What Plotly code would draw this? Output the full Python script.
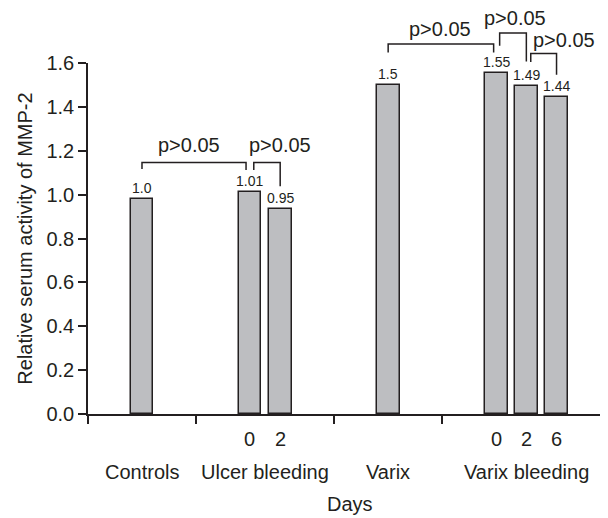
import plotly.graph_objects as go

# ---------------- data ----------------
groups = ["Controls", "Ulcer bleeding", "Varix", "Varix bleeding"]
days = [[""], ["0", "2"], [""], ["0", "2", "6"]]
values = [[0.98], [1.013, 0.935], [1.50], [1.553, 1.497, 1.445]]
value_labels = [["1.0"], ["1.01", "0.95"], ["1.5"], ["1.55", "1.49", "1.44"]]
y_ticks = [0.0, 0.2, 0.4, 0.6, 0.8, 1.0, 1.2, 1.4, 1.6]
y_title = "Relative serum activity of MMP-2"
x_title = "Days"
p_text = "p>0.05"
# pairs of bars (flat index) compared with a bracket
comparisons = [(0, 1), (1, 2), (3, 4), (4, 5), (5, 6)]

# ---------------- style / layout constants ----------------
FONT = "Liberation Sans, Arial, Helvetica, sans-serif"
INK = "#231f20"
BAR_FILL = "#bdbec1"
GAP = 2.576          # padding inside each group (bar units)
BAR_W = 0.76
Y_MAX = 1.6
X_MAX = 17.22
# bracket geometry (data units of y)
br_top = [1.147, 1.147, 1.687, 1.737, 1.643]
br_left_end = [1.117, 1.112, 1.648, 1.679, 1.605]
br_right_end = [1.112, 1.038, 1.648, 1.607, 1.547]
br_left_off = [0.0, 0.126, 0.0, 0.116, 0.146]
br_right_off = [-0.13, 0.0, -0.083, 0.0, 0.0]
txt_dx = [-0.15, 0.417, -0.02, 0.08, 0.659]
txt_dy = [0.081, 0.081, 0.070, 0.066, 0.063]
DAY_Y, GROUP_Y, TITLE_Y = -0.115, -0.264, -0.411
TITLE_DX = 0.77


def py(v):
    """data y -> paper y (range starts at 0)"""
    return v / Y_MAX


# ---------------- positions through a simple group layout ----------------
bar_x, bar_v, bar_lab, bar_day = [], [], [], []
group_centers, group_edges = [], [0.0]
cur = 0.0
for g, vs, labs, ds in zip(groups, values, value_labels, days):
    n = len(vs)
    for i in range(n):
        bar_x.append(cur + GAP / 2 + 0.5 + i)
        bar_v.append(vs[i])
        bar_lab.append(labs[i])
        bar_day.append(ds[i])
    w = GAP + n
    group_centers.append(cur + w / 2)
    cur += w
    group_edges.append(cur)

fig = go.Figure()
fig.add_trace(go.Bar(
    x=bar_x, y=bar_v, width=BAR_W,
    marker=dict(color=BAR_FILL, line=dict(color=INK, width=1.5)),
    hoverinfo="skip", showlegend=False,
))

f14 = dict(family=FONT, size=14, color=INK)
f20 = dict(family=FONT, size=20, color=INK)
annotations = []
# value labels on bars
for x, v, t in zip(bar_x, bar_v, bar_lab):
    annotations.append(dict(x=x, y=py(v), xref="x", yref="paper", text=t, showarrow=False,
                            yanchor="bottom", font=f14, yshift=1))
# day labels
for x, d in zip(bar_x, bar_day):
    if d:
        annotations.append(dict(x=x, y=py(DAY_Y), xref="x", yref="paper", text=d,
                                showarrow=False, yanchor="middle", font=f20))
# group labels
for c, g in zip(group_centers, groups):
    annotations.append(dict(x=c, y=py(GROUP_Y), xref="x", yref="paper", text=g,
                            showarrow=False, yanchor="middle", font=f20))
annotations.append(dict(x=(group_centers[1] + group_centers[2]) / 2 + TITLE_DX, y=py(TITLE_Y),
                        xref="x", yref="paper", text=x_title, showarrow=False,
                        yanchor="middle", font=f20))

shapes = []
for k, (a, b) in enumerate(comparisons):
    xl = bar_x[a] + br_left_off[k]
    xr = bar_x[b] + br_right_off[k]
    path = "M {},{} L {},{} L {},{} L {},{}".format(
        xl, py(br_left_end[k]), xl, py(br_top[k]),
        xr, py(br_top[k]), xr, py(br_right_end[k]))
    shapes.append(dict(type="path", path=path, xref="x", yref="paper",
                       line=dict(color=INK, width=1.5)))
    annotations.append(dict(x=(xl + xr) / 2 + txt_dx[k], y=py(br_top[k] + txt_dy[k]),
                            xref="x", yref="paper", text=p_text, showarrow=False,
                            yanchor="middle", font=f20))

# page body has an 8px margin: figure is 600x510 and offset by 8px
fig.update_layout(
    width=600, height=510,
    margin=dict(l=80, r=0, t=55, b=104),
    paper_bgcolor="white", plot_bgcolor="white",
    font=f20,
    bargap=0,
    xaxis=dict(range=[0, X_MAX], showline=True, linecolor=INK, linewidth=1.5,
               ticks="outside", ticklen=8, tickwidth=1.5, tickcolor=INK,
               tickvals=group_edges, showticklabels=False, showgrid=False, zeroline=False,
               fixedrange=True),
    yaxis=dict(range=[0, Y_MAX], showline=True, linecolor=INK, linewidth=1.5,
               ticks="outside", ticklen=8, tickwidth=1.5, tickcolor=INK,
               tickvals=y_ticks, tickformat=".1f", showgrid=False, zeroline=False,
               tickfont=f20,
               title=dict(text=y_title, font=f20, standoff=8),
               fixedrange=True),
    annotations=annotations,
    shapes=shapes,
)

fig.write_html("out.html")
